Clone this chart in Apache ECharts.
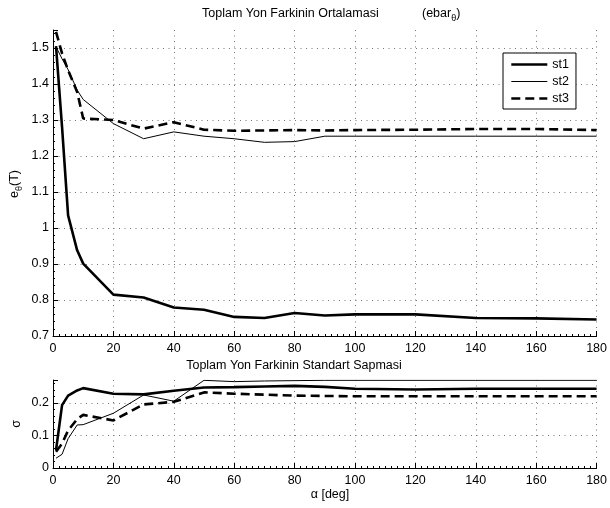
<!DOCTYPE html>
<html><head><meta charset="utf-8">
<script src="https://cdn.jsdelivr.net/npm/echarts@6/dist/echarts.min.js"></script>
<style>html,body{margin:0;padding:0;background:#fff}#c{width:610px;height:508px}</style>
</head><body><div id="c"></div>
<script>
// ---- data ----
const alpha = [1, 3, 5, 8, 10, 20, 30, 40, 50, 60, 70, 80, 90, 100, 120, 140, 160, 180];
const seriesNames = ['st1', 'st2', 'st3'];
const mean_st1 = [1.505, 1.28, 1.035, 0.938, 0.901, 0.815, 0.807, 0.779, 0.773, 0.753, 0.750, 0.764, 0.757, 0.760, 0.760, 0.750, 0.749, 0.746];
const mean_st2 = [1.503, 1.47, 1.44, 1.383, 1.357, 1.290, 1.248, 1.267, 1.255, 1.248, 1.238, 1.240, 1.255, 1.255, 1.255, 1.255, 1.255, 1.255];
const mean_st3 = [1.545, 1.485, 1.438, 1.378, 1.304, 1.300, 1.276, 1.294, 1.273, 1.270, 1.271, 1.272, 1.271, 1.272, 1.273, 1.275, 1.275, 1.272];
const std_st1 = [0.055, 0.193, 0.222, 0.238, 0.245, 0.228, 0.226, 0.237, 0.247, 0.248, 0.250, 0.252, 0.249, 0.243, 0.241, 0.243, 0.243, 0.243];
const std_st2 = [0.030, 0.042, 0.090, 0.132, 0.133, 0.168, 0.224, 0.205, 0.269, 0.265, 0.267, 0.268, 0.269, 0.269, 0.269, 0.269, 0.269, 0.269];
const std_st3 = [0.050, 0.075, 0.115, 0.150, 0.163, 0.146, 0.195, 0.203, 0.232, 0.228, 0.225, 0.222, 0.221, 0.220, 0.220, 0.220, 0.220, 0.220];
const xTicks = [0, 20, 40, 60, 80, 100, 120, 140, 160, 180];
const topTicks = [0.7, 0.8, 0.9, 1, 1.1, 1.2, 1.3, 1.4, 1.5];
const botTicks = [0, 0.1, 0.2];

// ---- chart ----
const FONT = "'Liberation Sans', Arial, Helvetica, sans-serif";
const FS = 12.5;
const pair = (ys) => alpha.map((a, i) => [a, ys[i]]);
const styles = [
  { width: 2.6, type: 'solid' },
  { width: 1, type: 'solid' },
  { width: 2.6, type: [9, 5] }
];
const dotted = { show: true, lineStyle: { color: '#777', width: 1, type: [1, 4.5] } };

function xAxis(gi) {
  return {
    type: 'value', gridIndex: gi,
    min: xTicks[0], max: xTicks[xTicks.length - 1], interval: xTicks[1] - xTicks[0],
    axisLine: { show: true, onZero: false, lineStyle: { color: '#000', width: 1 } },
    axisTick: { show: true, inside: true, length: 5, lineStyle: { color: '#000' } },
    minorTick: { show: true, splitNumber: 10, length: 2, lineStyle: { color: '#000' } },
    splitLine: dotted,
    axisLabel: { margin: 6, fontFamily: FONT, fontSize: FS, color: '#000' }
  };
}
function yAxis(gi, ticks, max) {
  return {
    type: 'value', gridIndex: gi,
    min: ticks[0], max: max, interval: +(ticks[1] - ticks[0]).toFixed(3),
    axisLine: { show: true, onZero: false, lineStyle: { color: '#000', width: 1 } },
    axisTick: { show: true, inside: true, length: 5, lineStyle: { color: '#000' } },
    minorTick: { show: true, splitNumber: 5, length: 2, lineStyle: { color: '#000' } },
    splitLine: Object.assign({ showMaxLine: false }, dotted),
    axisLabel: {
      margin: 4, fontFamily: FONT, fontSize: FS, color: '#000', showMaxLabel: false,
      formatter: v => String(+v.toFixed(2))
    }
  };
}

const topData = [mean_st1, mean_st2, mean_st3];
const botData = [std_st1, std_st2, std_st3];
const series = [];
seriesNames.forEach((n, i) => {
  series.push({ name: n, type: 'line', xAxisIndex: 0, yAxisIndex: 0, data: pair(topData[i]),
    symbol: 'none', lineStyle: Object.assign({ color: '#000' }, styles[i]), itemStyle: { color: '#000' }, z: 3 - i });
});
seriesNames.forEach((n, i) => {
  series.push({ name: n, type: 'line', xAxisIndex: 1, yAxisIndex: 1, data: pair(botData[i]),
    symbol: 'none', lineStyle: Object.assign({ color: '#000' }, styles[i]), itemStyle: { color: '#000' }, z: 3 - i });
});

const txt = (x, y, text, extra) => Object.assign({
  type: 'text', x: x, y: y, silent: true,
  style: Object.assign({ text: text, fontFamily: FONT, fontSize: FS, fill: '#000',
    textAlign: 'center', textVerticalAlign: 'middle' }, (extra && extra.style) || {})
}, extra ? { rotation: extra.rotation || 0 } : {});

const chart = echarts.init(document.getElementById('c'), null, { renderer: 'canvas' });
chart.setOption({
  animation: false,
  backgroundColor: '#fff',
  grid: [
    { left: 53, width: 549, top: 30, height: 306 },
    { left: 53, width: 549, top: 380, height: 88 }
  ],
  xAxis: [xAxis(0), xAxis(1)],
  yAxis: [yAxis(0, topTicks, 1.55), yAxis(1, botTicks, 0.27)],
  legend: {
    data: seriesNames, left: 503, top: 53, orient: 'vertical',
    itemWidth: 36, itemHeight: 14, itemGap: 4, padding: [5, 7, 4, 7],
    borderColor: '#000', borderWidth: 1, backgroundColor: '#fff',
    textStyle: { fontFamily: FONT, fontSize: FS, color: '#000' },
    itemStyle: { opacity: 0 },
    lineStyle: { width: 'inherit', type: 'inherit', color: 'inherit' },
    selectedMode: false
  },
  graphic: [
    txt(202, 14, 'Toplam Yon Farkinin Ortalamasi', { style: { textAlign: 'left' } }),
    txt(422, 14, '{n|(ebar}{s|θ}{n|)}', { style: { textAlign: 'left',
      rich: { n: { fontFamily: FONT, fontSize: FS, fill: '#000' },
              s: { fontFamily: FONT, fontSize: 9, fill: '#000', padding: [9, 0, 0, 0] } } } }),
    txt(294, 366, 'Toplam Yon Farkinin Standart Sapmasi'),
    txt(15, 184, '{n|e}{s|θ}{n|(T)}', { rotation: Math.PI / 2, style: {
      rich: { n: { fontFamily: FONT, fontSize: FS, fill: '#000' },
              s: { fontFamily: FONT, fontSize: 9, fill: '#000', padding: [9, 0, 0, 0] } } } }),
    txt(17, 424, 'σ', { rotation: Math.PI / 2 }),
    txt(330, 495, 'α [deg]')
  ],
  series: series
});
</script>
</body></html>
